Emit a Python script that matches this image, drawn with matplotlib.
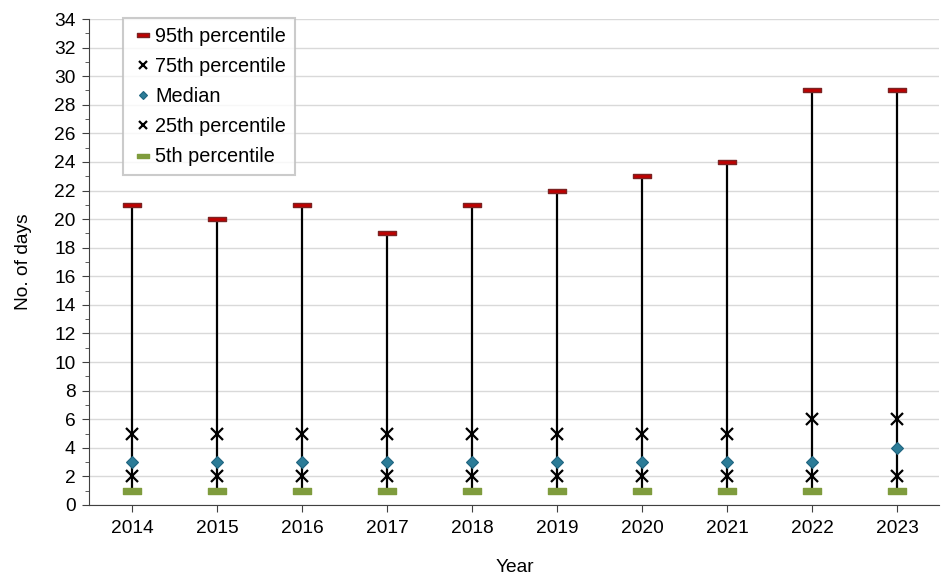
import matplotlib
matplotlib.use("Agg")
import matplotlib.pyplot as plt
import numpy as np
from matplotlib.path import Path

years = ["2014", "2015", "2016", "2017", "2018", "2019", "2020", "2021", "2022", "2023"]
p95 = [21, 20, 21, 19, 21, 22, 23, 24, 29, 29]
p75 = [5, 5, 5, 5, 5, 5, 5, 5, 6, 6]
median = [3, 3, 3, 3, 3, 3, 3, 3, 3, 4]
p25 = [2, 2, 2, 2, 2, 2, 2, 2, 2, 2]
p5 = [1, 1, 1, 1, 1, 1, 1, 1, 1, 1]

plt.rcParams['font.family'] = ['Liberation Sans', 'DejaVu Sans']
FS = 13.8

fig = plt.figure(figsize=(9.44, 5.76), dpi=100)
ax = fig.add_axes([0.0948, 0.1233, 0.9004, 0.8437])

x = np.arange(len(years))
rect = Path([(-1, -0.27), (1, -0.27), (1, 0.27), (-1, 0.27), (-1, -0.27)],
            [Path.MOVETO, Path.LINETO, Path.LINETO, Path.LINETO, Path.CLOSEPOLY])

ax.vlines(x, p5, p95, color='black', lw=1.6, zorder=2)
h95, = ax.plot(x, p95, ls='none', marker=rect, ms=13, mfc='#C00000', mec='#7B2323', mew=1, zorder=4, label='95th percentile')
h75, = ax.plot(x, p75, ls='none', marker='x', ms=9, mec='black', mew=1.6, zorder=4, label='75th percentile')
hmed, = ax.plot(x, median, ls='none', marker='D', ms=6.2, mfc='#2C7C97', mec='#1F6580', mew=0.8, zorder=4, label='Median')
h25, = ax.plot(x, p25, ls='none', marker='x', ms=9, mec='black', mew=1.6, zorder=4, label='25th percentile')
h5, = ax.plot(x, p5, ls='none', marker=rect, ms=13.5, mfc='#7F9C3D', mec='#7F9C3D', mew=1, zorder=4, label='5th percentile')

ax.set_xlim(-0.5, len(years) - 0.5)
ax.set_ylim(0, 34)
ax.set_yticks(np.arange(0, 35, 2))
ax.set_yticks(np.arange(1, 34, 2), minor=True)
ax.set_xticks(x)
ax.set_xticklabels(years)
ax.grid(axis='y', which='major', color='#D9D9D9', lw=1, zorder=0)
ax.set_axisbelow(True)

for s in ['top', 'right']:
    ax.spines[s].set_visible(False)
ax.spines['left'].set_color('#404040')
ax.spines['bottom'].set_color('#404040')
ax.tick_params(axis='y', which='major', length=5, labelsize=FS, color='#404040', pad=5)
ax.tick_params(axis='y', which='minor', length=3, color='#404040')
ax.tick_params(axis='x', length=5, labelsize=FS, color='#404040', pad=6)

ax.set_ylabel('No. of days', fontsize=FS, labelpad=16)
ax.set_xlabel('Year', fontsize=FS, labelpad=16)

leg = ax.legend(handles=[h95, h75, hmed, h25, h5], loc='upper left',
                bbox_to_anchor=(0.039, 1.002), borderaxespad=0, fontsize=14.3, frameon=True,
                fancybox=False, edgecolor='#BFBFBF', handlelength=1.2,
                handletextpad=0.0, labelspacing=0.56, borderpad=0.45, markerscale=0.65)
leg.get_frame().set_linewidth(1.5)

fig.savefig('out.png', dpi=100)
